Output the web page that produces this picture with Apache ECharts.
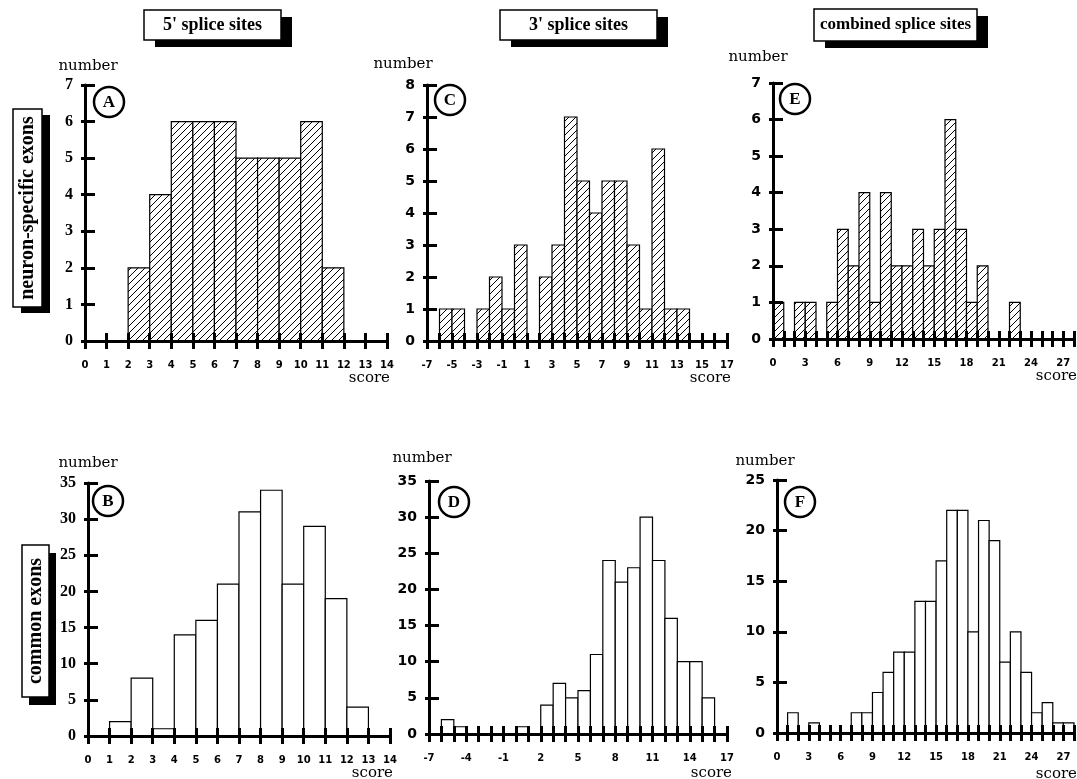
<!DOCTYPE html>
<html>
<head>
<meta charset="utf-8">
<script src="https://cdn.jsdelivr.net/npm/echarts@6/dist/echarts.min.js"></script>
<style>
html,body{margin:0;padding:0;background:#fff;}
#chartmain{width:1077px;height:779px;}
</style>
</head>
<body>
<div id="chartmain"></div>
<script>
// bins are 1 score unit wide, given by left edge
var binWidth = 1;
var aStart = [2, 3, 4, 5, 6, 7, 8, 9, 10, 11];
var aCount = [2, 4, 6, 6, 6, 5, 5, 5, 6, 2];
var bStart = [1, 2, 3, 4, 5, 6, 7, 8, 9, 10, 11, 12];
var bCount = [2, 8, 1, 14, 16, 21, 31, 34, 21, 29, 19, 4];
var cStart = [-6, -5, -3, -2, -1, 0, 2, 3, 4, 5, 6, 7, 8, 9, 10, 11, 12, 13];
var cCount = [1, 1, 1, 2, 1, 3, 2, 3, 7, 5, 4, 5, 5, 3, 1, 6, 1, 1];
var dStart = [-6, -5, 0, 2, 3, 4, 5, 6, 7, 8, 9, 10, 11, 12, 13, 14, 15];
var dCount = [2, 1, 1, 4, 7, 5, 6, 11, 24, 21, 23, 30, 24, 16, 10, 10, 5];
var eStart = [0, 2, 3, 5, 6, 7, 8, 9, 10, 11, 12, 13, 14, 15, 16, 17, 18, 19, 22];
var eCount = [1, 1, 1, 1, 3, 2, 4, 1, 4, 2, 2, 3, 2, 3, 6, 3, 1, 2, 1];
var fStart = [1, 3, 7, 8, 9, 10, 11, 12, 13, 14, 15, 16, 17, 18, 19, 20, 21, 22, 23, 24, 25, 26, 27];
var fCount = [2, 1, 2, 2, 4, 6, 8, 8, 13, 13, 17, 22, 22, 10, 21, 19, 7, 10, 6, 2, 3, 1, 1];

var abXLabels = [0, 1, 2, 3, 4, 5, 6, 7, 8, 9, 10, 11, 12, 13, 14];
var cXLabels = [-7, -5, -3, -1, 1, 3, 5, 7, 9, 11, 13, 15, 17];
var dXLabels = [-7, -4, -1, 2, 5, 8, 11, 14, 17];
var efXLabels = [0, 3, 6, 9, 12, 15, 18, 21, 24, 27];

var colHeads = ["5' splice sites", "3' splice sites", "combined splice sites"];
var rowHeads = ["neuron-specific exons", "common exons"];

var hatch = (function () {
	var c = document.createElement('canvas');
	c.width = 7; c.height = 7;
	var g = c.getContext('2d');
	g.fillStyle = '#fff';
	g.fillRect(0, 0, 7, 7);
	g.strokeStyle = '#000';
	g.lineWidth = 1;
	g.beginPath();
	g.moveTo(-1, 8); g.lineTo(8, -1);
	g.stroke();
	return c;
})();

var panels = [
	{letter: 'A', start: aStart, count: aCount, labels: abXLabels, xMin: 0, xMax: 14, yMax: 7, yStep: 1, hatched: true, serif: true,
	 grid: {left: 85, top: 85, width: 302, height: 256}, circle: [109, 102], number: [88, 66], score: [390, 378]},
	{letter: 'B', start: bStart, count: bCount, labels: abXLabels, xMin: 0, xMax: 14, yMax: 35, yStep: 5, hatched: false, serif: true,
	 grid: {left: 88, top: 483, width: 302, height: 253}, circle: [108, 501], number: [88, 463], score: [393, 773]},
	{letter: 'C', start: cStart, count: cCount, labels: cXLabels, xMin: -7, xMax: 17, yMax: 8, yStep: 1, hatched: true, serif: false,
	 grid: {left: 427, top: 85, width: 300, height: 256}, circle: [450, 100], number: [403, 64], score: [731, 378]},
	{letter: 'D', start: dStart, count: dCount, labels: dXLabels, xMin: -7, xMax: 17, yMax: 35, yStep: 5, hatched: false, serif: false,
	 grid: {left: 429, top: 481, width: 298, height: 253}, circle: [454, 502], number: [422, 458], score: [732, 773]},
	{letter: 'E', start: eStart, count: eCount, labels: efXLabels, xMin: 0, xMax: 28, yMax: 7, yStep: 1, hatched: true, serif: false,
	 grid: {left: 773, top: 83, width: 304, height: 256}, circle: [795, 99], number: [758, 57], score: [1077, 376]},
	{letter: 'F', start: fStart, count: fCount, labels: efXLabels, xMin: 0, xMax: 28, yMax: 25, yStep: 5, hatched: false, serif: false,
	 grid: {left: 777, top: 480, width: 302, height: 253}, circle: [800, 502], number: [765, 461], score: [1077, 774]}
];

var grids = [], xAxes = [], yAxes = [], series = [], graphics = [];
var black = '#000';

panels.forEach(function (p, i) {
	grids.push(p.grid);
	var xlab = p.labels;
	// main x axis: line, labels, ticks below
	xAxes.push({
		gridIndex: i, type: 'value', position: 'bottom', min: p.xMin, max: p.xMax, interval: 1, z: 10,
		axisLine: {show: true, onZero: false, lineStyle: {color: black, width: 3}},
		axisTick: {show: true, inside: false, length: 8, lineStyle: {color: black, width: 3}},
		axisLabel: {margin: 19, color: black, fontFamily: 'DejaVu Sans', fontWeight: 'bold', fontSize: 10,
			formatter: function (v) { return xlab.indexOf(v) >= 0 ? String(v) : ''; }},
		splitLine: {show: false}
	});
	// second x axis only for the tick half above the line
	xAxes.push({
		gridIndex: i, type: 'value', position: 'bottom', min: p.xMin, max: p.xMax, interval: 1, z: 10,
		axisLine: {show: false, onZero: false},
		axisTick: {show: true, inside: true, length: 8, lineStyle: {color: black, width: 3}},
		axisLabel: {show: false}, splitLine: {show: false}
	});
	yAxes.push({
		gridIndex: i, type: 'value', position: 'left', min: 0, max: p.yMax, interval: p.yStep, z: 10,
		axisLine: {show: true, onZero: false, lineStyle: {color: black, width: 3}},
		axisTick: {show: true, inside: false, length: 4, lineStyle: {color: black, width: 3}},
		axisLabel: {margin: 12, color: black,
			fontFamily: p.serif ? 'Liberation Serif' : 'DejaVu Sans', fontWeight: 'bold', fontSize: p.serif ? 16 : 14},
		splitLine: {show: false}
	});
	yAxes.push({
		gridIndex: i, type: 'value', position: 'left', min: 0, max: p.yMax, interval: p.yStep, z: 10,
		axisLine: {show: false, onZero: false},
		axisTick: {show: true, inside: true, length: 10, lineStyle: {color: black, width: 3}},
		axisLabel: {show: false}, splitLine: {show: false}
	});
	var fill = p.hatched ? {image: hatch, repeat: 'repeat'} : '#fff';
	series.push({
		type: 'custom', xAxisIndex: 2 * i, yAxisIndex: 2 * i, z: 2,
		data: p.start.map(function (s, k) { return [s, p.count[k]]; }),
		renderItem: function (params, api) {
			var x0 = api.value(0), n = api.value(1);
			var tl = api.coord([x0, n]);
			var br = api.coord([x0 + binWidth, 0]);
			return {
				type: 'rect',
				shape: {x: tl[0], y: tl[1], width: br[0] - tl[0], height: br[1] - tl[1]},
				style: {fill: fill, stroke: black, lineWidth: 1.2}
			};
		}
	});
	graphics.push({type: 'circle', shape: {cx: p.circle[0], cy: p.circle[1], r: 15}, z: 20,
		style: {fill: '#fff', stroke: black, lineWidth: 2.5}});
	graphics.push({type: 'text', x: p.circle[0], y: p.circle[1] + 1, z: 21,
		style: {text: p.letter, fill: black, font: 'bold 17px "Liberation Serif"', textAlign: 'center', textVerticalAlign: 'middle'}});
	graphics.push({type: 'text', x: p.number[0], y: p.number[1], z: 21,
		style: {text: 'number', fill: black, font: '15px "DejaVu Serif"', textAlign: 'center', textVerticalAlign: 'middle'}});
	graphics.push({type: 'text', x: p.score[0], y: p.score[1], z: 21,
		style: {text: 'score', fill: black, font: '15px "DejaVu Serif"', textAlign: 'right', textVerticalAlign: 'middle'}});
});

function boxLabel(x, y, w, h, dx, dy, text, rot, size) {
	graphics.push({type: 'rect', shape: {x: x + dx, y: y + dy, width: w, height: h}, z: 20, style: {fill: black}});
	graphics.push({type: 'rect', shape: {x: x, y: y, width: w, height: h}, z: 21,
		style: {fill: '#fff', stroke: black, lineWidth: 1.5}});
	graphics.push({type: 'text', x: x + w / 2, y: y + h / 2, rotation: rot, z: 22,
		style: {text: text, fill: black, font: 'bold ' + size + 'px "Liberation Serif"', textAlign: 'center', textVerticalAlign: 'middle'}});
}
boxLabel(144, 10, 137, 30, 11, 7, colHeads[0], 0, 18);
boxLabel(500, 10, 157, 30, 11, 7, colHeads[1], 0, 18);
boxLabel(814, 9, 163, 32, 11, 7, colHeads[2], 0, 17);
boxLabel(13, 109, 29, 198, 8, 6, rowHeads[0], Math.PI / 2, 20);
boxLabel(22, 545, 27, 152, 7, 8, rowHeads[1], Math.PI / 2, 20);

var myChart = echarts.init(document.getElementById('chartmain'));
myChart.setOption({
	backgroundColor: '#fff',
	animation: false,
	grid: grids,
	xAxis: xAxes,
	yAxis: yAxes,
	series: series,
	graphic: graphics
});
</script>
</body>
</html>
